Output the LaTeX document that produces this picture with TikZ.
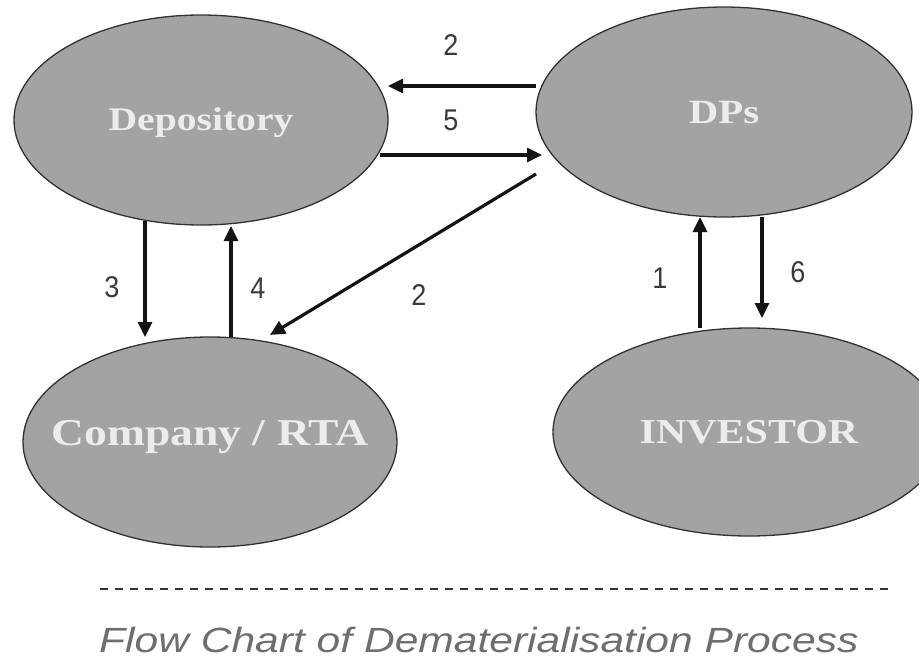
\documentclass[tikz,border=0pt]{standalone}
\usepackage{fontspec}
\setmainfont{Liberation Serif}
\newfontfamily\numfont{Liberation Sans}
\usetikzlibrary{arrows.meta,shapes.geometric}
\definecolor{ellfill}{RGB}{163,163,163}
\definecolor{elldraw}{RGB}{50,50,50}
\definecolor{lbl}{RGB}{236,236,236}
\definecolor{numcol}{RGB}{58,58,58}
\definecolor{capcol}{RGB}{110,110,110}
\tikzset{
  ell/.style={ellipse, fill=ellfill, draw=elldraw, line width=1.3pt,
    inner sep=0pt, outer sep=0pt, minimum width=374pt, minimum height=210pt,
    text=lbl, text depth=0pt},
  lsize/.style={font=\bfseries\fontsize{#1}{#1}\selectfont},
  arr/.style={line width=3.2pt, draw=black!92,
    -{Triangle[length=15pt,width=14pt]}},
  num/.style={inner sep=0pt, text=numcol},
  dashline/.style={line width=2pt, draw=black!80, dash pattern=on 8pt off 7pt}
}
\newcommand{\lab}[1]{\makebox[0pt]{\scalebox{1.2}[1]{#1}}}
\newcommand{\dig}[1]{\numfont\fontsize{30}{30}\selectfont\scalebox{0.9}[1]{#1}}
\begin{document}
\begin{tikzpicture}[x=1pt,y=-1pt]
\fill[white] (0,0) rectangle (919,662);
\useasboundingbox (0,0) rectangle (919,662);

\node[ell, lsize=33, text height=21.8pt] (dep) at (201,120) {\lab{Depository}};
\node[ell, lsize=34, text height=22.4pt, minimum width=376pt] (dps) at (724,112) {\lab{DPs}};
\node[ell, lsize=38, text height=25pt, text depth=18pt] (com) at (210,442) {\lab{Company / RTA}};
\node[ell, lsize=35, text height=23.1pt, minimum width=392pt, minimum height=208pt] (inv) at (749,432) {\lab{INVESTOR}};

% connectors
\draw[arr] ([yshift=26pt]dps.west) -- ([yshift=34pt]dep.east);
\draw[arr] ([xshift=-8pt,yshift=-35pt]dep.east) -- ([xshift=6pt,yshift=-43pt]dps.west);
\draw[arr] ([yshift=-62pt]dps.west) -- ([xshift=60pt,yshift=2pt]com.north);
\draw[arr] ([xshift=-56pt,yshift=4pt]dep.south) -- ([xshift=-65pt]com.north);
\draw[arr] ([xshift=21pt]com.north) -- ([xshift=30pt,yshift=-1pt]dep.south);
\draw[arr] ([xshift=-49pt]inv.north) -- ([xshift=-24pt]dps.south);
\draw[arr, shorten >=10pt] ([xshift=38pt]dps.south) -- ([xshift=13pt]inv.north);

% numbers
\node[num] (n2a) at (451,45) {\dig{2}};
\node[num] (n5) at (451,120) {\dig{5}};
\node[num] (n2b) at (419,295) {\dig{2}};
\node[num] (n3) at (112,287) {\dig{3}};
\node[num] (n4) at (258,288) {\dig{4}};
\node[num] (n1) at (660,278) {\dig{1}};
\node[num] (n6) at (798,272) {\dig{6}};

% caption
\coordinate (dl) at (100,589);
\coordinate (dr) at (893,589);
\draw[dashline] (dl) -- (dr);
\node[anchor=base west, inner sep=0pt, text=capcol] (cap) at (99,652)
  {\numfont\itshape\fontsize{35}{35}\selectfont\scalebox{1.216}[1]{Flow Chart of Dematerialisation Process}};
\end{tikzpicture}
\end{document}
